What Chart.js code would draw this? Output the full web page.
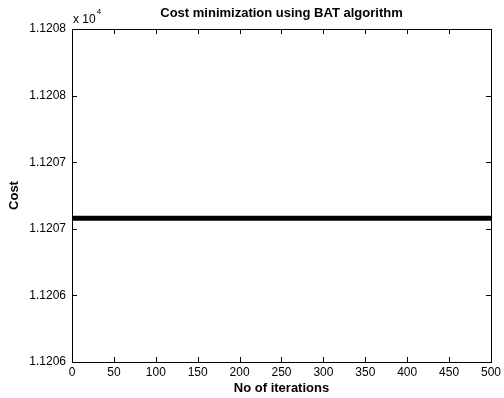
<!DOCTYPE html>
<html>
<head>
<meta charset="utf-8">
<script src="https://cdn.jsdelivr.net/npm/chart.js@4"></script>
<style>
  html, body { margin: 0; padding: 0; background: #fff; }
</style>
</head>
<body>
<canvas id="costChart" width="504" height="398"></canvas>
<script>
const iterations = [1, 100, 200, 300, 400, 500];
const cost = [11207.08, 11207.08, 11207.08, 11207.08, 11207.08, 11207.08];
const xTicks = [0, 50, 100, 150, 200, 250, 300, 350, 400, 450, 500];
const yTicks = [11206, 11206.5, 11207, 11207.5, 11208, 11208.5];
const yTickLabels = ['1.1206', '1.1206', '1.1207', '1.1207', '1.1208', '1.1208'];

const FONT = '"Liberation Sans", Arial, Helvetica, sans-serif';

// matlab style box: frame, inward ticks, exponent label
const matlabBox = {
    id: 'matlabBox',
    afterDraw(chart) {
        const ctx = chart.ctx;
        const a = chart.chartArea;
        const x = chart.scales.x;
        const y = chart.scales.y;
        ctx.save();
        ctx.strokeStyle = '#000';
        ctx.lineWidth = 1;
        ctx.strokeRect(Math.round(a.left) + 0.5, Math.round(a.top) + 0.5,
            Math.round(a.right - a.left), Math.round(a.bottom - a.top));
        ctx.beginPath();
        xTicks.forEach(v => {
            const px = Math.round(x.getPixelForValue(v)) + 0.5;
            ctx.moveTo(px, a.bottom); ctx.lineTo(px, a.bottom - 5);
            ctx.moveTo(px, a.top); ctx.lineTo(px, a.top + 5);
        });
        yTicks.forEach(v => {
            const py = Math.round(y.getPixelForValue(v)) + 0.5;
            ctx.moveTo(a.left, py); ctx.lineTo(a.left + 5, py);
            ctx.moveTo(a.right, py); ctx.lineTo(a.right - 5, py);
        });
        ctx.stroke();

        ctx.fillStyle = '#000';
        ctx.textBaseline = 'alphabetic';
        ctx.textAlign = 'left';
        ctx.font = '12px ' + FONT;
        ctx.fillText('x 10', a.left + 1, a.top - 6);
        const w = ctx.measureText('x 10').width;
        ctx.font = '8px ' + FONT;
        ctx.fillText('4', a.left + 2 + w, a.top - 15);
        ctx.restore();
    }
};

new Chart(document.getElementById('costChart'), {
    type: 'line',
    data: {
        datasets: [{
            label: 'Cost',
            data: iterations.map((it, i) => ({ x: it, y: cost[i] })),
            borderColor: '#000',
            borderWidth: 5,
            pointRadius: 0,
            fill: false,
            tension: 0
        }]
    },
    options: {
        responsive: false,
        animation: false,
        layout: { padding: { left: 0, right: 10, top: 0, bottom: 0 } },
        plugins: {
            legend: { display: false },
            tooltip: { enabled: false },
            title: {
                display: true,
                text: 'Cost minimization using BAT algorithm',
                fullSize: false,
                color: '#000',
                font: { family: FONT, size: 13, weight: 'bold' },
                padding: { top: 6, bottom: 7.4 }
            }
        },
        scales: {
            x: {
                type: 'linear',
                min: 0,
                max: 500,
                afterBuildTicks: s => { s.ticks = xTicks.map(v => ({ value: v })); },
                afterFit: s => { s.height = 36; },
                grid: { display: false, drawTicks: false },
                border: { display: true, color: '#000' },
                ticks: {
                    color: '#000',
                    padding: 3,
                    maxRotation: 0,
                    font: { family: FONT, size: 12 }
                },
                title: {
                    display: true,
                    text: 'No of iterations',
                    color: '#000',
                    font: { family: FONT, size: 13, weight: 'bold' },
                    padding: { top: 0, bottom: 2 }
                }
            },
            y: {
                type: 'linear',
                min: 11206,
                max: 11208.5,
                afterBuildTicks: s => { s.ticks = yTicks.map(v => ({ value: v })); },
                afterFit: s => { s.width = 72; },
                grid: { display: false, drawTicks: false },
                border: { display: true, color: '#000' },
                ticks: {
                    color: '#000',
                    padding: 6,
                    font: { family: FONT, size: 12 },
                    callback: (v, i) => yTickLabels[i]
                },
                title: {
                    display: true,
                    text: 'Cost',
                    color: '#000',
                    font: { family: FONT, size: 13, weight: 'bold' },
                    padding: { top: 7, bottom: 0 }
                }
            }
        }
    },
    plugins: [matlabBox]
});
</script>
</body>
</html>
